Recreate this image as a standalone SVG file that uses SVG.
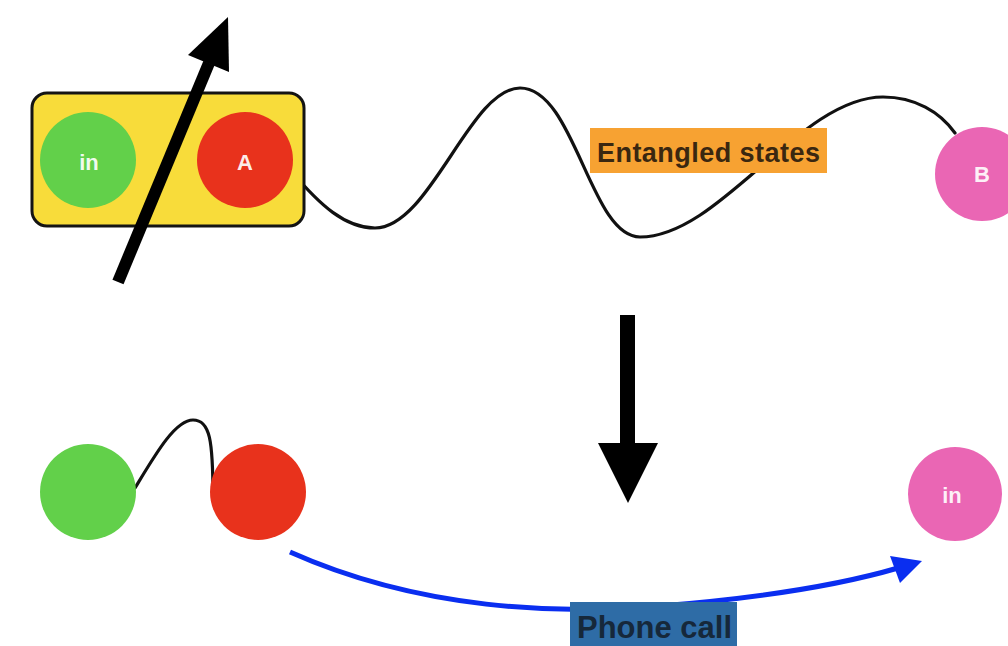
<svg xmlns="http://www.w3.org/2000/svg" width="1008" height="646" viewBox="0 0 1008 646">
  <style>
    .bg { fill: #ffffff; }
    .box { fill: #f8dc3a; stroke: #141414; stroke-width: 3; }
    .green { fill: #62d04a; }
    .red { fill: #e8321c; }
    .pink { fill: #ea66b4; }
    .node-label { font-family: "Liberation Sans", Arial, sans-serif; font-weight: bold; font-size: 22px; fill: #ffffff; fill-opacity: 0.92; text-anchor: middle; }
    .wire { fill: none; stroke: #111111; stroke-width: 3.2; stroke-linecap: round; }
    .shaft { fill: none; stroke: #000000; stroke-width: 12; }
    .head { fill: #000000; }
    .call { fill: none; stroke: #0a2ef0; stroke-width: 5; stroke-linecap: butt; }
    .call-head { fill: #0a2ef0; }
    .tag-orange { fill: #f7a232; }
    .tag-blue { fill: #2e6ca6; }
    .tag-text { font-family: "Liberation Sans", Arial, sans-serif; font-weight: bold; }
  </style>

  <rect class="bg" x="0" y="0" width="1008" height="646"/>

  <!-- connectors -->
  <g id="connectors">
    <!-- wavy link from A to B -->
    <path id="wave-ab" class="wire" d="M 292 172 C 320 205, 345 228, 375 228 C 430 228, 470 88, 520 88 C 575 88, 590 237, 640 237 C 720 237, 800 97, 883 97 C 915 97, 940 112, 955 133"/>
    <!-- short link between the two lower circles -->
    <path id="wave-pair" class="wire" d="M 135 488 C 155 455, 175 420, 193 420 C 210 420, 213 440, 213 498"/>
    <!-- phone call arc -->
    <path id="call-arc" class="call" d="M 290 552 C 420 610, 560 615, 660 606 C 760 598, 840 585, 898 568"/>
    <polygon class="call-head" points="922,561 890,556 900,583"/>
  </g>

  <!-- upper pair in its box -->
  <g id="box-in-a">
    <rect class="box" x="32" y="93" width="272" height="133" rx="15" ry="15"/>
  </g>
  <g id="node-in-top">
    <circle class="green" cx="88" cy="160" r="48"/>
    <text class="node-label" x="89" y="170">in</text>
  </g>
  <g id="node-a">
    <circle class="red" cx="245" cy="160" r="48"/>
    <text class="node-label" x="245" y="170">A</text>
  </g>

  <!-- diagonal arrow across the box -->
  <g id="diag-arrow">
    <line class="shaft" x1="118" y1="282" x2="209" y2="63"/>
    <polygon class="head" points="228,17 229,72 188,55"/>
  </g>

  <g id="node-b">
    <circle class="pink" cx="982" cy="174" r="47"/>
    <text class="node-label" x="982" y="182">B</text>
  </g>

  <g id="label-entangled">
    <rect class="tag-orange" x="590" y="128" width="237" height="45"/>
    <text class="tag-text" x="597" y="162" font-size="27" fill="#3a2710" textLength="223" lengthAdjust="spacing">Entangled states</text>
  </g>

  <!-- central downward arrow -->
  <g id="down-arrow">
    <rect class="head" x="620" y="315" width="15" height="130"/>
    <polygon class="head" points="598,443 658,443 628,503"/>
  </g>

  <!-- lower row -->
  <g id="node-green-bottom">
    <circle class="green" cx="88" cy="492" r="48"/>
  </g>
  <g id="node-red-bottom">
    <circle class="red" cx="258" cy="492" r="48"/>
  </g>
  <g id="node-in-bottom">
    <circle class="pink" cx="955" cy="494" r="47"/>
    <text class="node-label" x="952" y="503">in</text>
  </g>

  <g id="label-phone">
    <rect class="tag-blue" x="570" y="602" width="167" height="50"/>
    <text class="tag-text" x="577" y="638" font-size="31" fill="#16283a" textLength="155" lengthAdjust="spacing">Phone call</text>
  </g>
</svg>
